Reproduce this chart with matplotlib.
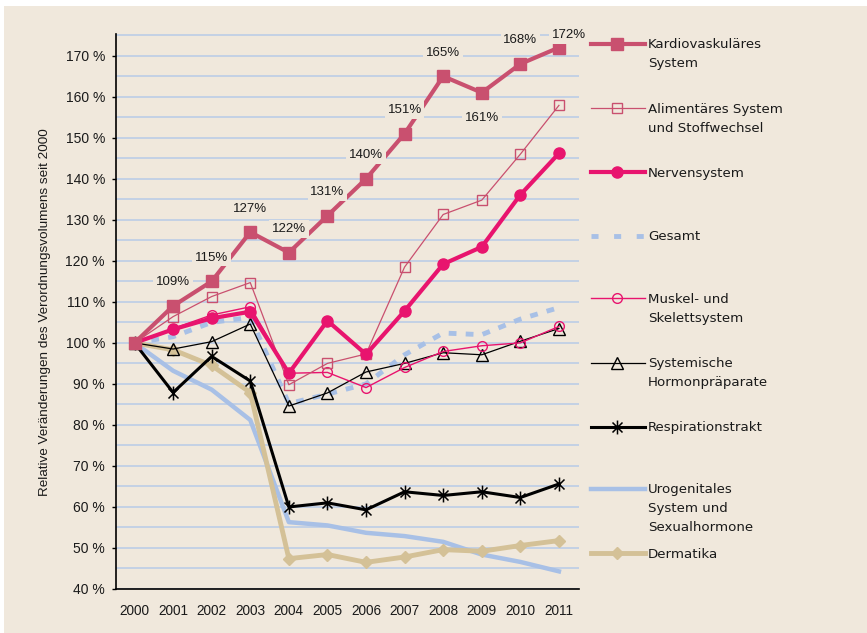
import matplotlib
matplotlib.use("Agg")
import matplotlib.pyplot as plt
from matplotlib.lines import Line2D
from matplotlib.patches import Rectangle
from matplotlib.path import Path

plt.rcParams['font.family'] = ['Liberation Sans', 'DejaVu Sans']

# ---- data: volume relative to 2000 (in %) ----
years = [2000, 2001, 2002, 2003, 2004, 2005, 2006, 2007, 2008, 2009, 2010, 2011]
kardio = [100, 109, 115, 127, 122, 131, 140, 151, 165, 161, 168, 172]
aliment = [100, 106.4, 111.3, 114.7, 89.8, 95.0, 97.3, 118.5, 131.3, 134.8, 146.0, 157.9]
nerven = [100, 103.3, 106.0, 107.6, 92.6, 105.4, 97.2, 107.8, 119.2, 123.4, 136.1, 146.2]
gesamt = [100, 101.5, 105.0, 106.2, 85.2, 87.5, 90.0, 97.1, 102.4, 102.0, 105.8, 108.6]
muskel = [100, 103.5, 106.8, 108.8, 92.6, 92.8, 89.1, 94.0, 97.9, 99.3, 100.0, 104.0]
hormon = [100, 98.5, 100.3, 104.6, 84.6, 87.8, 92.9, 95.0, 97.6, 97.1, 100.4, 103.5]
respir = [100, 87.9, 96.7, 90.7, 60.0, 61.0, 59.3, 63.7, 62.8, 63.7, 62.3, 65.6]
urogen = [100, 93.2, 88.6, 81.2, 56.3, 55.5, 53.7, 52.9, 51.5, 48.4, 46.6, 44.3]
dermat = [100, 98.3, 94.5, 87.9, 47.4, 48.4, 46.5, 47.8, 49.6, 49.2, 50.6, 51.8]

names = [
    "Kardiovaskuläres\nSystem",
    "Alimentäres System\nund Stoffwechsel",
    "Nervensystem",
    "Gesamt",
    "Muskel- und\nSkelettsystem",
    "Systemische\nHormonpräparate",
    "Respirationstrakt",
    "Urogenitales\nSystem und\nSexualhormone",
    "Dermatika",
]
series = [kardio, aliment, nerven, gesamt, muskel, hormon, respir, urogen, dermat]
y_ticks = list(range(40, 171, 10))

BG = "#f0e8dc"
ROSE = "#c9506f"
PINK = "#e8146e"
BLUE = "#a8c0e6"
TAN = "#d4c197"
TXT = "#1a1a1a"

# "X" with a vertical bar
asterisk = Path([(0, -1), (0, 1), (-0.72, -0.72), (0.72, 0.72), (-0.72, 0.72), (0.72, -0.72)],
                [Path.MOVETO, Path.LINETO] * 3)

styles = [
    dict(color=ROSE, lw=3.0, marker="s", ms=8, mfc=ROSE, mec=ROSE),
    dict(color=ROSE, lw=0.9, marker="s", ms=7, mfc="none", mec=ROSE, mew=1.0),
    dict(color=PINK, lw=3.0, marker="o", ms=8, mfc=PINK, mec=PINK),
    dict(color=BLUE, lw=3.5, dashes=(1.6, 1.9), dash_capstyle="butt"),
    dict(color=PINK, lw=1.0, marker="o", ms=7, mfc="none", mec=PINK, mew=1.0),
    dict(color="black", lw=0.9, marker="^", ms=8, mfc="none", mec="black", mew=1.0),
    dict(color="black", lw=2.2, marker=asterisk, ms=10, mec="black", mew=1.1),
    dict(color=BLUE, lw=3.2),
    dict(color=TAN, lw=3.5, marker="D", ms=6.5, mfc=TAN, mec=TAN),
]

W, H = 867, 633
fig = plt.figure(figsize=(W / 100, H / 100), dpi=100, facecolor="white")
fig.add_artist(Rectangle((4 / W, 0), 1, (H - 6) / H, transform=fig.transFigure,
                         facecolor=BG, edgecolor="none", zorder=-5))

ax = fig.add_axes([116 / W, (H - 589) / H, (579 - 116) / W, (589 - 34) / H])
ax.set_facecolor("none")

draw_order = [3, 7, 8, 6, 5, 4, 1, 2, 0]
for i in draw_order:
    ax.plot(years, series[i], zorder=3 + draw_order.index(i) * 0.1,
            clip_on=False, **styles[i])

# value labels of the cardiovascular series
offsets = {2009: (0, -18), 2011: (7, 9)}
for x, v in zip(years[1:], kardio[1:]):
    dx, dy = offsets.get(x, (0, 17))
    ax.annotate(f"{v:.0f}%", (x, v), xytext=(dx, dy), textcoords="offset points",
                ha="center", va="center", fontsize=9.5, color=TXT, zorder=10,
                bbox=dict(boxstyle="square,pad=0.2", fc=BG, ec="none"))

ax.set_xlim(1999.52, 2011.52)
ax.set_ylim(40, 175.3)
ax.set_xticks(years)
ax.set_xticklabels([str(y) for y in years])
ax.set_yticks(y_ticks)
ax.set_yticklabels([f"{t} %" for t in y_ticks])
ax.set_yticks(list(range(45, 176, 10)), minor=True)
ax.grid(True, axis="y", which="both", color="#bccde6", lw=1.2, zorder=1)
ax.set_axisbelow(True)
ax.tick_params(axis="x", length=0, pad=11, labelsize=9.8, labelcolor=TXT)
ax.tick_params(axis="y", which="major", length=3, width=1, direction="out",
               pad=5, labelsize=10, labelcolor=TXT)
ax.tick_params(axis="y", which="minor", length=0)
for s in ("top", "right"):
    ax.spines[s].set_visible(False)
for s in ("left", "bottom"):
    ax.spines[s].set_linewidth(1.2)
    ax.spines[s].set_color("black")
    ax.spines[s].set_zorder(2)

fig.text(45 / W, 1 - 312 / H, "Relative Veränderungen des Verordnungsvolumens seit 2000",
         rotation=90, ha="center", va="center", fontsize=9.7, color=TXT)

# legend on the right
leg_y = [43.5, 108, 172.3, 236, 298.5, 362.7, 426.7, 488.5, 553.3]
lx0, lxm, lx1 = 591 / W, 617 / W, 645 / W
for idx, (name, st, yp) in enumerate(zip(names, styles, leg_y)):
    yf = 1 - yp / H
    kw = dict(st)
    if idx == 3:
        kw["dashes"] = (1.45, 3.2)
    ln = Line2D([lx0, lxm, lx1], [yf, yf, yf], transform=fig.transFigure,
                markevery=[1], **kw)
    fig.add_artist(ln)
    for k, line in enumerate(name.split("\n")):
        fig.text(648 / W, 1 - (yp + 4.5 + 19 * k) / H, line, ha="left",
                 va="baseline", fontsize=9.6, color=TXT, family="DejaVu Sans")

fig.savefig("out.png", dpi=100, facecolor=fig.get_facecolor())
